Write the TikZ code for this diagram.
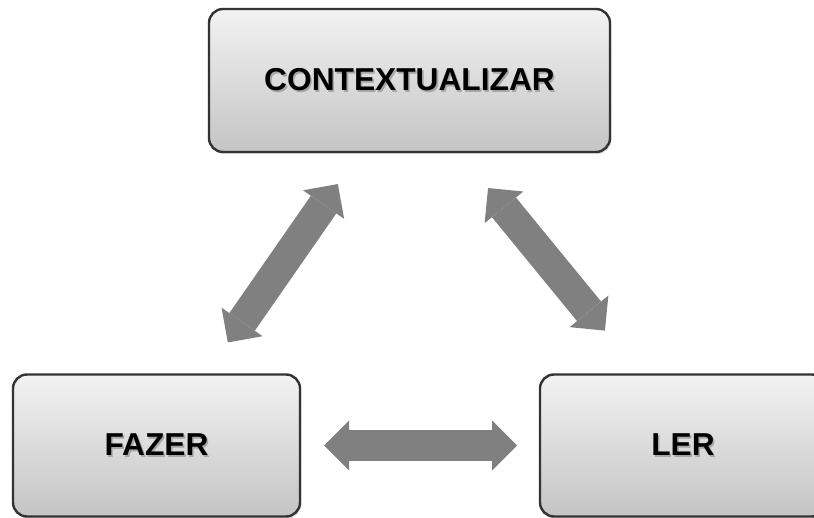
\documentclass[tikz,border=0pt]{standalone}
\usepackage{fontspec}
\setmainfont{Liberation Sans}
\usetikzlibrary{arrows.meta,shadows}
\definecolor{arrowgray}{HTML}{808080}
\definecolor{boxline}{HTML}{333333}
\newcommand{\shtext}[1]{\makebox[0pt][l]{\hspace{1.6pt}\raisebox{-1.6pt}{\color{black!35}#1}}#1}
\tikzset{
  box/.style={draw=boxline, line width=2.4pt, rounded corners=14pt,
    top color=gray!10, bottom color=gray!46, outer sep=0pt, inner sep=0pt,
    drop shadow={opacity=0.25, shadow xshift=1.5pt, shadow yshift=-2pt},
    font=\fontsize{31.7}{36}\selectfont\bfseries, text=black},
  fatarrow/.style={draw=arrowgray, line width=31pt,
    {Triangle[length=25pt, width=50pt, line width=0pt]}-{Triangle[length=25pt, width=50pt, line width=0pt]}}
}
\begin{document}
\begin{tikzpicture}[x=1pt,y=1pt]
\useasboundingbox (0,0) rectangle (814,-518);
\node[box, minimum width=401pt, minimum height=143pt] (ctx) at (409.5,-80.5) {\shtext{CONTEXTUALIZAR}};
\node[box, minimum width=287pt, minimum height=142pt] (fazer) at (156.5,-445.5) {\shtext{FAZER}};
\node[box, minimum width=286pt, minimum height=142pt] (ler) at (683,-445.5) {\shtext{LER}};
\draw[fatarrow, shorten <=39pt, shorten >=39pt] (ctx) -- (fazer);
\draw[fatarrow, shorten <=139pt, shorten >=148.5pt] ([xshift=-9.5pt]ctx.center) -- ([xshift=16pt]ler.center);
\draw[fatarrow, shorten <=24pt, shorten >=23pt] (fazer) -- (ler);
\end{tikzpicture}
\end{document}
